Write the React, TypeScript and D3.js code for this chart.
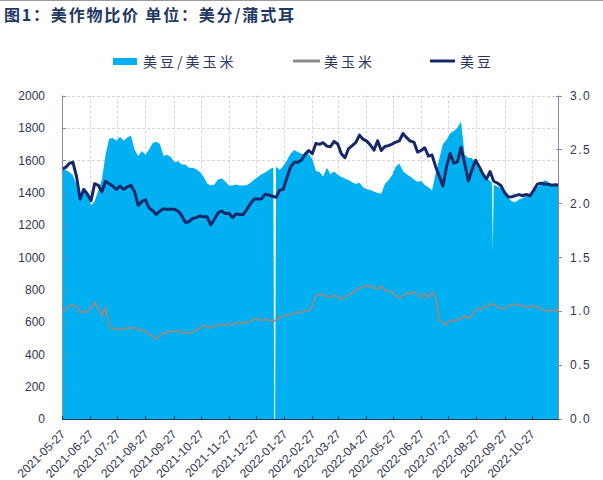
import React from "react";
import * as d3 from "d3";

const startDate = new Date(2021, 4, 27);
const endDate = new Date(2022, 10, 26);
const stepDays = 4;

const soy = [
  1545, 1555, 1580, 1588, 1500, 1360, 1420, 1390, 1350, 1455,
  1445, 1405, 1470, 1455, 1440, 1420, 1440, 1420, 1435, 1445,
  1405, 1320, 1345, 1355, 1305, 1288, 1265, 1286, 1300, 1296,
  1296, 1296, 1285, 1258, 1215, 1220, 1240, 1245, 1255, 1251,
  1250, 1200, 1235, 1274, 1286, 1270, 1272, 1245, 1268, 1265,
  1265, 1298, 1333, 1360, 1360, 1362, 1390, 1385, 1377, 1370,
  1415, 1420, 1492, 1558, 1587, 1588, 1600, 1636, 1660, 1640,
  1704, 1698, 1708, 1687, 1683, 1716, 1700, 1640, 1615, 1672,
  1690, 1710, 1755, 1730, 1718, 1694, 1662, 1720, 1660, 1685,
  1690, 1700, 1712, 1720, 1765, 1739, 1718, 1712, 1650, 1660,
  1677, 1625, 1632, 1560, 1500, 1440, 1560, 1642, 1582, 1590,
  1680, 1580, 1471, 1540, 1600, 1560, 1515, 1483, 1530, 1470,
  1459, 1442, 1400, 1373, 1374, 1381, 1387, 1380, 1388, 1379,
  1413, 1452, 1458, 1453, 1452, 1445, 1448, 1445,
];

const corn = [
  670, 677, 695, 705, 695, 660, 665, 660, 685, 722,
  685, 640, 690, 574, 558, 560, 556, 558, 560, 562,
  568, 552, 550, 542, 528, 508, 498, 514, 535, 536,
  540, 545, 542, 537, 534, 528, 541, 549, 560, 578,
  572, 562, 574, 585, 580, 581, 590, 580, 594, 597,
  595, 597, 605, 618, 618, 608, 617, 612, 607, 610,
  627, 638, 645, 648, 653, 662, 659, 669, 666, 700,
  764, 768, 768, 757, 755, 764, 758, 739, 751, 766,
  780, 797, 810, 814, 825, 822, 810, 803, 820, 799,
  792, 784, 765, 745, 764, 777, 776, 785, 768, 752,
  776, 751, 784, 755, 614, 595, 585, 610, 608, 613,
  620, 640, 621, 640, 676, 682, 686, 692, 712, 706,
  694, 682, 683, 697, 705, 710, 707, 697, 693, 693,
  700, 693, 682, 670, 669, 669, 675, 675,
];

const ratio = [
  2.32, 2.31, 2.29, 2.26, 2.17, 2.07, 2.14, 2.11, 1.98, 2.02,
  2.12, 2.22, 2.45, 2.6, 2.605, 2.58, 2.617, 2.58, 2.61, 2.63,
  2.5, 2.44, 2.485, 2.45, 2.5, 2.56, 2.57, 2.55, 2.44, 2.45,
  2.43, 2.38, 2.39, 2.36, 2.36, 2.33, 2.33, 2.315, 2.29, 2.25,
  2.185, 2.165, 2.175, 2.22, 2.23, 2.205, 2.165, 2.165, 2.175, 2.165,
  2.165, 2.17, 2.19, 2.22, 2.245, 2.27, 2.285, 2.31, 2.33, 2.34,
  2.31, 2.346, 2.4, 2.46, 2.495, 2.475, 2.46, 2.45, 2.46, 2.41,
  2.3, 2.29, 2.25, 2.33, 2.27, 2.295, 2.265, 2.245, 2.23, 2.215,
  2.195, 2.18, 2.19, 2.15, 2.13, 2.124, 2.11, 2.095, 2.09, 2.18,
  2.215, 2.26, 2.34, 2.37, 2.3, 2.27, 2.25, 2.22, 2.2, 2.207,
  2.17, 2.15, 2.12, 2.28, 2.41, 2.55, 2.59, 2.65, 2.67, 2.7,
  2.76, 2.45, 2.42, 2.42, 2.37, 2.31, 2.285, 2.24, 2.207, 2.175,
  2.157, 2.14, 2.1, 2.05, 2.02, 2.01, 2.035, 2.05, 2.065, 2.068,
  2.1, 2.15, 2.18, 2.215, 2.2, 2.17, 2.165, 2.17,
];

// isolated daily readings of the ratio (gaps / dips in the area)
const ratioExtraDays = [233, 234, 235, 474, 475];
const ratioExtraVals = [2.33, 0, 0, 2.19, 1.55];

const leftTicks = [0, 200, 400, 600, 800, 1000, 1200, 1400, 1600, 1800, 2000];
const rightTicks = [0, 0.5, 1, 1.5, 2, 2.5, 3];
const monthTicks = [
  "2021-05-27", "2021-06-27", "2021-07-27", "2021-08-27", "2021-09-27",
  "2021-10-27", "2021-11-27", "2021-12-27", "2022-01-27", "2022-02-27",
  "2022-03-27", "2022-04-27", "2022-05-27", "2022-06-27", "2022-07-27",
  "2022-08-27", "2022-09-27", "2022-10-27",
];

const titleText = "图1：美作物比价 单位：美分/蒲式耳";
const legendLabels = ["美豆/美玉米", "美玉米", "美豆"];

const AREA_COLOR = "#00B0F0";
const CORN_COLOR = "#8C8C8C";
const SOY_COLOR = "#14286A";
const TEXT_COLOR = "#2F3550";
const NUM_FONT = "'Liberation Sans', Arial, sans-serif";
const CJK_FONT = "'Noto Sans CJK SC', sans-serif";

export default function App() {
  const W = 603;
  const H = 480;
  const L = 62;
  const R = 559;
  const T = 95.5;
  const B = 419;

  const parse = d3.timeParse("%Y-%m-%d");
  const dates = soy.map((_, i) => d3.timeDay.offset(startDate, i * stepDays));
  const x = d3.scaleTime().domain([startDate, endDate]).range([L, R]);
  const yL = d3.scaleLinear().domain([0, 2000]).range([B, T]);
  const yR = d3.scaleLinear().domain([0, 3]).range([B, T]);

  const ratioPts = [
    ...ratio.map((v, i) => ({ d: dates[i], v })),
    ...ratioExtraDays.map((dd, i) => ({ d: d3.timeDay.offset(startDate, dd), v: ratioExtraVals[i] })),
  ].sort((a, b) => +a.d - +b.d);

  const areaGen = d3
    .area<{ d: Date; v: number }>()
    .x((p) => x(p.d))
    .y0(B)
    .y1((p) => yR(p.v));

  const lineGen = d3
    .line<number>()
    .x((_, i) => x(dates[i]))
    .y((v) => yL(v));

  const fmtR = d3.format(".1f");
  const tickDates = monthTicks.map((s) => parse(s) as Date);

  return (
    <svg
      width={W}
      height={H}
      style={{ position: "absolute", left: 0, top: 0, background: "#fff" }}
      xmlns="http://www.w3.org/2000/svg"
    >
      <rect x={0} y={0} width={W} height={H} fill="#fff" />
      <line x1={0} x2={W} y1={0.5} y2={0.5} stroke="#9a9a9a" strokeWidth={1} />

      {/* Title */}
      <text
        x={4}
        y={21}
        fontFamily={CJK_FONT}
        fontWeight={700}
        fontSize={16}
        fill="#1F3864"
        textLength={290}
        lengthAdjust="spacing"
      >
        {titleText}
      </text>

      {/* Legend */}
      <g fontFamily={CJK_FONT} fontSize={14} fill="#2A3560" letterSpacing={3}>
        <rect x={113} y={58} width={24} height={7} fill={AREA_COLOR} />
        <text x={143} y={66.5}>{legendLabels[0]}</text>
        <line x1={293} x2={320} y1={61} y2={61} stroke={CORN_COLOR} strokeWidth={3} />
        <text x={324} y={66.5}>{legendLabels[1]}</text>
        <line x1={430} x2={455} y1={61} y2={61} stroke={SOY_COLOR} strokeWidth={3} />
        <text x={460} y={66.5}>{legendLabels[2]}</text>
      </g>

      {/* Grid */}
      <g stroke="#D6D6D6" strokeWidth={1} strokeDasharray="3,2">
        {leftTicks.map((t) => (
          <line key={"h" + t} x1={L} x2={R} y1={Math.round(yL(t)) + 0.5} y2={Math.round(yL(t)) + 0.5} />
        ))}
        {tickDates.map((t, i) => (
          <line key={"v" + i} x1={Math.round(x(t)) + 0.5} x2={Math.round(x(t)) + 0.5} y1={T} y2={B} />
        ))}
      </g>

      {/* Area ratio */}
      <path d={areaGen(ratioPts) || ""} fill={AREA_COLOR} />

      {/* Lines */}
      <path d={lineGen(corn) || ""} fill="none" stroke={CORN_COLOR} strokeWidth={2} strokeLinejoin="round" />
      <path d={lineGen(soy) || ""} fill="none" stroke={SOY_COLOR} strokeWidth={3} strokeLinejoin="round" />

      {/* Left axis */}
      <line x1={L + 0.5} x2={L + 0.5} y1={T} y2={B} stroke="#7F8CA8" strokeWidth={1} />
      {leftTicks.map((t) => (
        <g key={"lt" + t}>
          <line x1={L} x2={L + 4} y1={Math.round(yL(t)) + 0.5} y2={Math.round(yL(t)) + 0.5} stroke="#7F8CA8" />
          <text
            x={45}
            y={yL(t)}
            dy="0.36em"
            textAnchor="end"
            fontFamily={NUM_FONT}
            fontSize={12}
            fill={TEXT_COLOR}
          >
            {t}
          </text>
        </g>
      ))}

      {/* Right axis */}
      <line x1={R - 0.5} x2={R - 0.5} y1={T} y2={B} stroke="#7F8CA8" strokeWidth={1} />
      {rightTicks.map((t) => (
        <g key={"rt" + t}>
          <line x1={R - 3} x2={R + 3} y1={Math.round(yR(t)) + 0.5} y2={Math.round(yR(t)) + 0.5} stroke="#7F8CA8" />
          <text
            x={570}
            y={yR(t)}
            dy="0.36em"
            fontFamily={NUM_FONT}
            fontSize={12}
            letterSpacing={1.5}
            fill={TEXT_COLOR}
          >
            {fmtR(t)}
          </text>
        </g>
      ))}

      {/* Bottom axis */}
      <line x1={L} x2={R} y1={B + 0.5} y2={B + 0.5} stroke="#1F3864" strokeWidth={1.2} />
      {tickDates.map((t, i) => (
        <g key={"xt" + i}>
          <line
            x1={Math.round(x(t)) + 0.5}
            x2={Math.round(x(t)) + 0.5}
            y1={B}
            y2={B - 3}
            stroke="#1F3864"
          />
          <text
            transform={`translate(${x(t) + 4},${B + 16}) rotate(-45)`}
            textAnchor="end"
            fontFamily={NUM_FONT}
            fontSize={12}
            fill={TEXT_COLOR}
          >
            {monthTicks[i]}
          </text>
        </g>
      ))}
    </svg>
  );
}
